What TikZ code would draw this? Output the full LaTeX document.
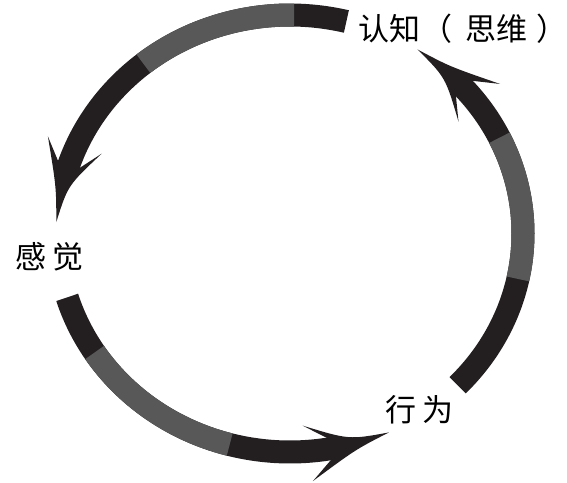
\documentclass[tikz,border=0pt]{standalone}
\usepackage{fontspec}
\newfontfamily\cjk{Noto Sans CJK SC}
\definecolor{arcdark}{RGB}{35,31,32}
\definecolor{arcgray}{RGB}{88,88,88}
\newcommand\mkpt[3]{\coordinate (#1) at ({290+(233+(#3))*cos(#2)},{233.5-(218.5+(#3))*sin(#2)});}
\newcommand\arrowhd[2]{%
  \mkpt{#1tip}{#2}{1}
  \mkpt{#1ob}{#2-20}{30}
  \mkpt{#1on}{#2-15}{10}
  \mkpt{#1in}{#2-15}{-10}
  \mkpt{#1ib}{#2-21.5}{-26}
  \mkpt{#1oc}{#2-9}{6}
  \mkpt{#1ic}{#2-10}{-5}
  \fill[arcdark] (#1tip) .. controls (#1oc) .. (#1ob) -- (#1on) -- (#1in) -- (#1ib) .. controls (#1ic) .. (#1tip) -- cycle;
}
\begin{document}
\begin{tikzpicture}[x=1pt,y=-1pt,
  band/.style={line width=23pt,line cap=butt},
  lab/.style={font=\cjk\fontsize{31}{36}\selectfont,inner sep=0pt,text=black}]
\useasboundingbox (0,0) rectangle (567,482);
% top arc: cognition -> sensation
\draw[band,arcdark] plot[domain=76:163,samples=80] ({290+233*cos(\x)},{233.5-218.5*sin(\x)});
\draw[band,arcgray] plot[domain=89:129,samples=40] ({290+233*cos(\x)},{233.5-218.5*sin(\x)});
\arrowhd{a}{177}
% bottom arc: sensation -> action
\draw[band,arcdark] plot[domain=197:281,samples=80] ({290+233*cos(\x)},{233.5-218.5*sin(\x)});
\draw[band,arcgray] plot[domain=213:255,samples=40] ({290+233*cos(\x)},{233.5-218.5*sin(\x)});
\arrowhd{b}{295}
% right arc: action -> cognition
\draw[band,arcdark] plot[domain=-44:43,samples=80] ({290+233*cos(\x)},{233.5-218.5*sin(\x)});
\draw[band,arcgray] plot[domain=-12:26,samples=40] ({290+233*cos(\x)},{233.5-218.5*sin(\x)});
\arrowhd{c}{57}
% labels
\node[lab,anchor=west] (cog) at (358,29) {认知\hspace{1pt}（\hspace{13pt}思维\hspace{9pt}）\hspace{-14pt}};
\node[lab,anchor=west] (sen) at (15,257) {感\hspace{6pt}觉};
\node[lab,anchor=west] (act) at (385,410) {行\hspace{6pt}为};
\end{tikzpicture}
\end{document}
